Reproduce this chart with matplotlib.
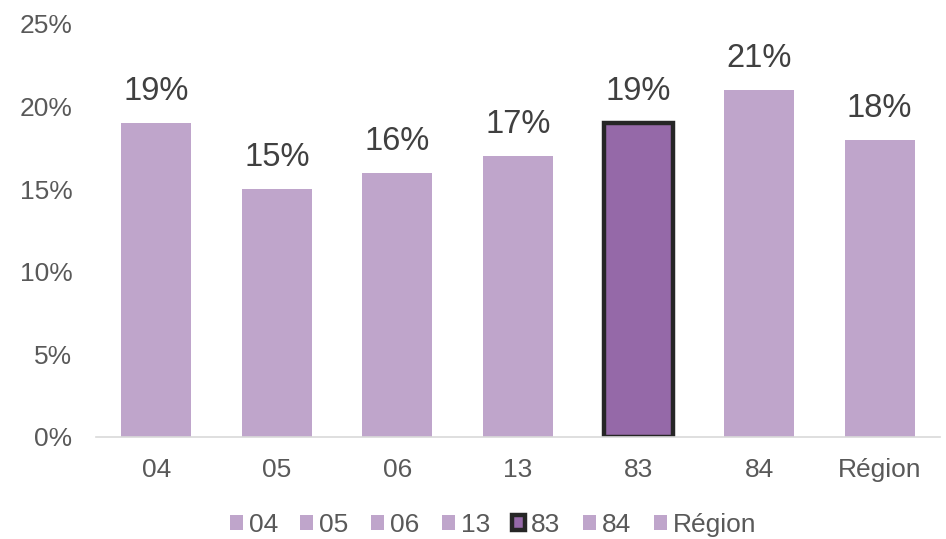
import matplotlib.pyplot as plt
from matplotlib.patches import Patch

categories = ['04', '05', '06', '13', '83', '84', 'Région']
values = [0.19, 0.15, 0.16, 0.17, 0.19, 0.21, 0.18]
highlight = '83'

light = '#BFA5CB'
dark = '#9569A8'

plt.rcParams['font.family'] = ['Liberation Sans', 'DejaVu Sans']

fig = plt.figure(figsize=(9.46, 5.39), dpi=100)
ax = fig.add_axes([0.1015, 0.1893, 0.892, 0.7662])

x = range(len(categories))
colors = [dark if c == highlight else light for c in categories]
edges = ['#262626' if c == highlight else 'none' for c in categories]
widths = [3.2 if c == highlight else 0 for c in categories]
bars = ax.bar(x, values, width=0.58, color=colors, edgecolor=edges, linewidth=widths, zorder=2)

for xi, v in zip(x, values):
    ax.text(xi, v + 0.0095, f'{v:.0%}', ha='center', va='bottom', fontsize=23.5, color='#404040')

ax.set_ylim(0, 0.25)
ax.set_xlim(-0.5, len(categories) - 0.5)
ax.set_yticks([0, 0.05, 0.10, 0.15, 0.20, 0.25])
ax.set_yticklabels([f'{t:.0%}' for t in [0, 0.05, 0.10, 0.15, 0.20, 0.25]])
ax.set_xticks(list(x))
ax.set_xticklabels(categories)
ax.tick_params(axis='both', length=0, labelsize=19, labelcolor='#595959')
ax.tick_params(axis='y', pad=17)
ax.tick_params(axis='x', pad=15)
for s in ['top', 'right', 'left']:
    ax.spines[s].set_visible(False)
ax.spines['bottom'].set_color('#D9D9D9')
ax.spines['bottom'].set_linewidth(1.2)

handles = []
for c in categories:
    if c == highlight:
        handles.append(Patch(facecolor=dark, edgecolor='#262626', linewidth=3.2))
    else:
        handles.append(Patch(facecolor=light, edgecolor='none'))
fig.legend(handles, categories, loc='lower center', ncol=7, frameon=False,
           bbox_to_anchor=(0.521, -0.04), fontsize=19, labelcolor='#595959',
           handlelength=0.5, handleheight=0.5, handletextpad=0.22, columnspacing=0.85)

fig.savefig('out.png', dpi=100)
